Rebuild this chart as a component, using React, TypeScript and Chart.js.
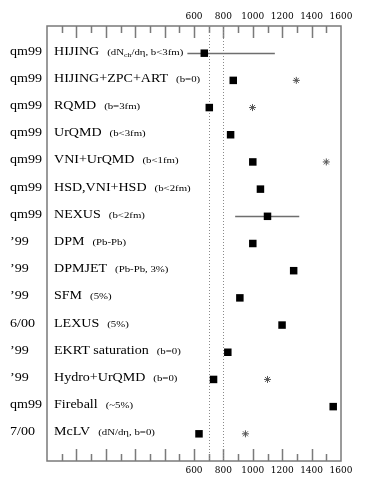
import React, { useEffect, useRef } from 'react';
import { Chart, registerables } from 'chart.js';

Chart.register(...registerables);

// ---- data ----
const sources = ['qm99', 'qm99', 'qm99', 'qm99', 'qm99', 'qm99', 'qm99', '’99', '’99', '’99', '6/00', '’99', '’99', 'qm99', '7/00'];
const models = ['HIJING', 'HIJING+ZPC+ART', 'RQMD', 'UrQMD', 'VNI+UrQMD', 'HSD,VNI+HSD', 'NEXUS', 'DPM', 'DPMJET', 'SFM', 'LEXUS', 'EKRT saturation', 'Hydro+UrQMD', 'Fireball', 'McLV'];
const notes = ['(dN_ch/dη, b<3fm)', '(b=0)', '(b=3fm)', '(b<3fm)', '(b<1fm)', '(b<2fm)', '(b<2fm)', '(Pb-Pb)', '(Pb-Pb, 3%)', '(5%)', '(5%)', '(b=0)', '(b=0)', '(~5%)', '(dN/dη, b=0)'];
const squareValues = [670, 867, 704, 849, 1000, 1052, 1100, 1000, 1278, 912, 1199, 830, 733, 1547, 634];
const starValues: (number | null)[] = [null, 1296, 998, null, 1500, null, null, null, null, null, null, null, 1100, null, 950];
const errLow: (number | null)[] = [555, null, null, null, null, null, 880, null, null, null, null, null, null, null, null];
const errHigh: (number | null)[] = [1150, null, null, null, null, null, 1316, null, null, null, null, null, null, null, null];
const dottedLines = [705, 795];
const xMin = -400;
const xMax = 1600;
const xStep = 200;
const labelFrom = 600;

function drawScaled(ctx: CanvasRenderingContext2D, text: string, x: number, y: number, font: string, sx: number): number {
  ctx.font = font;
  const w = ctx.measureText(text).width * sx;
  ctx.save();
  ctx.translate(x, y);
  ctx.scale(sx, 1);
  ctx.fillText(text, 0, 0);
  ctx.restore();
  return w;
}

export default function App() {
  const ref = useRef<HTMLCanvasElement>(null);

  useEffect(() => {
    if (!ref.current) return;
    const rows = models.map((_, i) => i + 1);

    const overlay = {
      id: 'overlay',
      beforeDatasetsDraw(chart: any) {
        const { ctx, chartArea: a, scales } = chart;
        const xs = scales.x;
        const ys = scales.y;
        ctx.save();
        // frame
        ctx.strokeStyle = '#7a7a7a';
        ctx.lineWidth = 1.5;
        ctx.strokeRect(a.left, a.top, a.right - a.left, a.bottom - a.top);
        // ticks (inward)
        for (let v = xMin + 100; v < xMax; v += 100) {
          const px = Math.round(xs.getPixelForValue(v)) + 0.5;
          const len = v % 200 === 0 ? 12 : 7;
          ctx.beginPath();
          ctx.moveTo(px, a.top);
          ctx.lineTo(px, a.top + len);
          ctx.moveTo(px, a.bottom);
          ctx.lineTo(px, a.bottom - len);
          ctx.stroke();
        }
        // dotted reference lines
        ctx.setLineDash([1, 2]);
        ctx.lineWidth = 1;
        ctx.strokeStyle = '#8a8a8a';
        dottedLines.forEach((v) => {
          const px = Math.round(xs.getPixelForValue(v)) + 0.5;
          ctx.beginPath();
          ctx.moveTo(px, a.top);
          ctx.lineTo(px, a.bottom);
          ctx.stroke();
        });
        ctx.setLineDash([]);
        // error bars
        ctx.strokeStyle = '#6e6e6e';
        ctx.lineWidth = 1.5;
        errLow.forEach((lo, i) => {
          const hi = errHigh[i];
          if (lo == null || hi == null) return;
          const y = Math.round(ys.getPixelForValue(rows[i])) + 0.5;
          ctx.beginPath();
          ctx.moveTo(xs.getPixelForValue(lo), y);
          ctx.lineTo(xs.getPixelForValue(hi), y);
          ctx.stroke();
        });
        ctx.restore();
      },
      afterDraw(chart: any) {
        const { ctx, chartArea: a, scales } = chart;
        const ys = scales.y;
        ctx.save();
        ctx.fillStyle = '#000';
        ctx.textBaseline = 'alphabetic';
        ctx.textAlign = 'left';
        const mainFont = '12px "Liberation Serif", serif';
        const smallFont = '9px "Liberation Serif", serif';
        const subFont = '6.5px "Liberation Serif", serif';
        rows.forEach((r, i) => {
          const y = ys.getPixelForValue(r) + 1.5;
          drawScaled(ctx, sources[i], 10, y, mainFont, 1.17);
          const w = drawScaled(ctx, models[i], a.left + 7, y, mainFont, 1.17);
          let x = a.left + 7 + w + 8;
          const parts = notes[i].split(/_(\w+)/);
          parts.forEach((p, k) => {
            if (!p) return;
            if (k % 2 === 1) {
              x += drawScaled(ctx, p, x, y + 2, subFont, 1.2);
            } else {
              x += drawScaled(ctx, p, x, y, smallFont, 1.2);
            }
          });
        });
        ctx.restore();
      },
    };

    const tickCfg = {
      stepSize: xStep,
      autoSkip: false,
      maxRotation: 0,
      padding: 4,
      color: '#000',
      font: { family: '"DejaVu Serif", serif', size: 9 },
      callback: (v: any) => (Number(v) >= labelFrom ? String(v) : ''),
    };

    const chart = new Chart(ref.current, {
      type: 'scatter',
      data: {
        datasets: [
          {
            label: 'model',
            data: squareValues.map((v, i) => ({ x: v, y: rows[i] })),
            pointStyle: 'rect',
            pointRadius: 5.3,
            backgroundColor: '#000',
            borderColor: '#000',
            borderWidth: 0,
          },
          {
            label: 'alt',
            data: starValues
              .map((v, i) => (v == null ? null : { x: v, y: rows[i] }))
              .filter((p) => p !== null) as any,
            pointStyle: 'star',
            pointRadius: 3.5,
            backgroundColor: '#555',
            borderColor: '#555',
            borderWidth: 1,
          },
        ],
      },
      options: {
        animation: false,
        responsive: true,
        maintainAspectRatio: false,
        layout: { padding: { left: 47, right: 36, top: 7.2, bottom: 21.2 } },
        plugins: { legend: { display: false }, tooltip: { enabled: false } },
        scales: {
          x: {
            type: 'linear',
            position: 'bottom',
            min: xMin,
            max: xMax,
            grid: { display: false, drawTicks: false },
            border: { display: false },
            ticks: tickCfg as any,
          },
          x2: {
            type: 'linear',
            position: 'top',
            min: xMin,
            max: xMax,
            grid: { display: false, drawTicks: false },
            border: { display: false },
            ticks: tickCfg as any,
          },
          y: {
            type: 'linear',
            min: 0,
            max: 16,
            reverse: true,
            display: false,
          },
        },
      },
      plugins: [overlay],
    });
    return () => chart.destroy();
  }, []);

  return (
    <div style={{ position: 'absolute', left: 0, top: 0, width: 377, height: 501, background: '#fff' }}>
      <canvas ref={ref} />
    </div>
  );
}
